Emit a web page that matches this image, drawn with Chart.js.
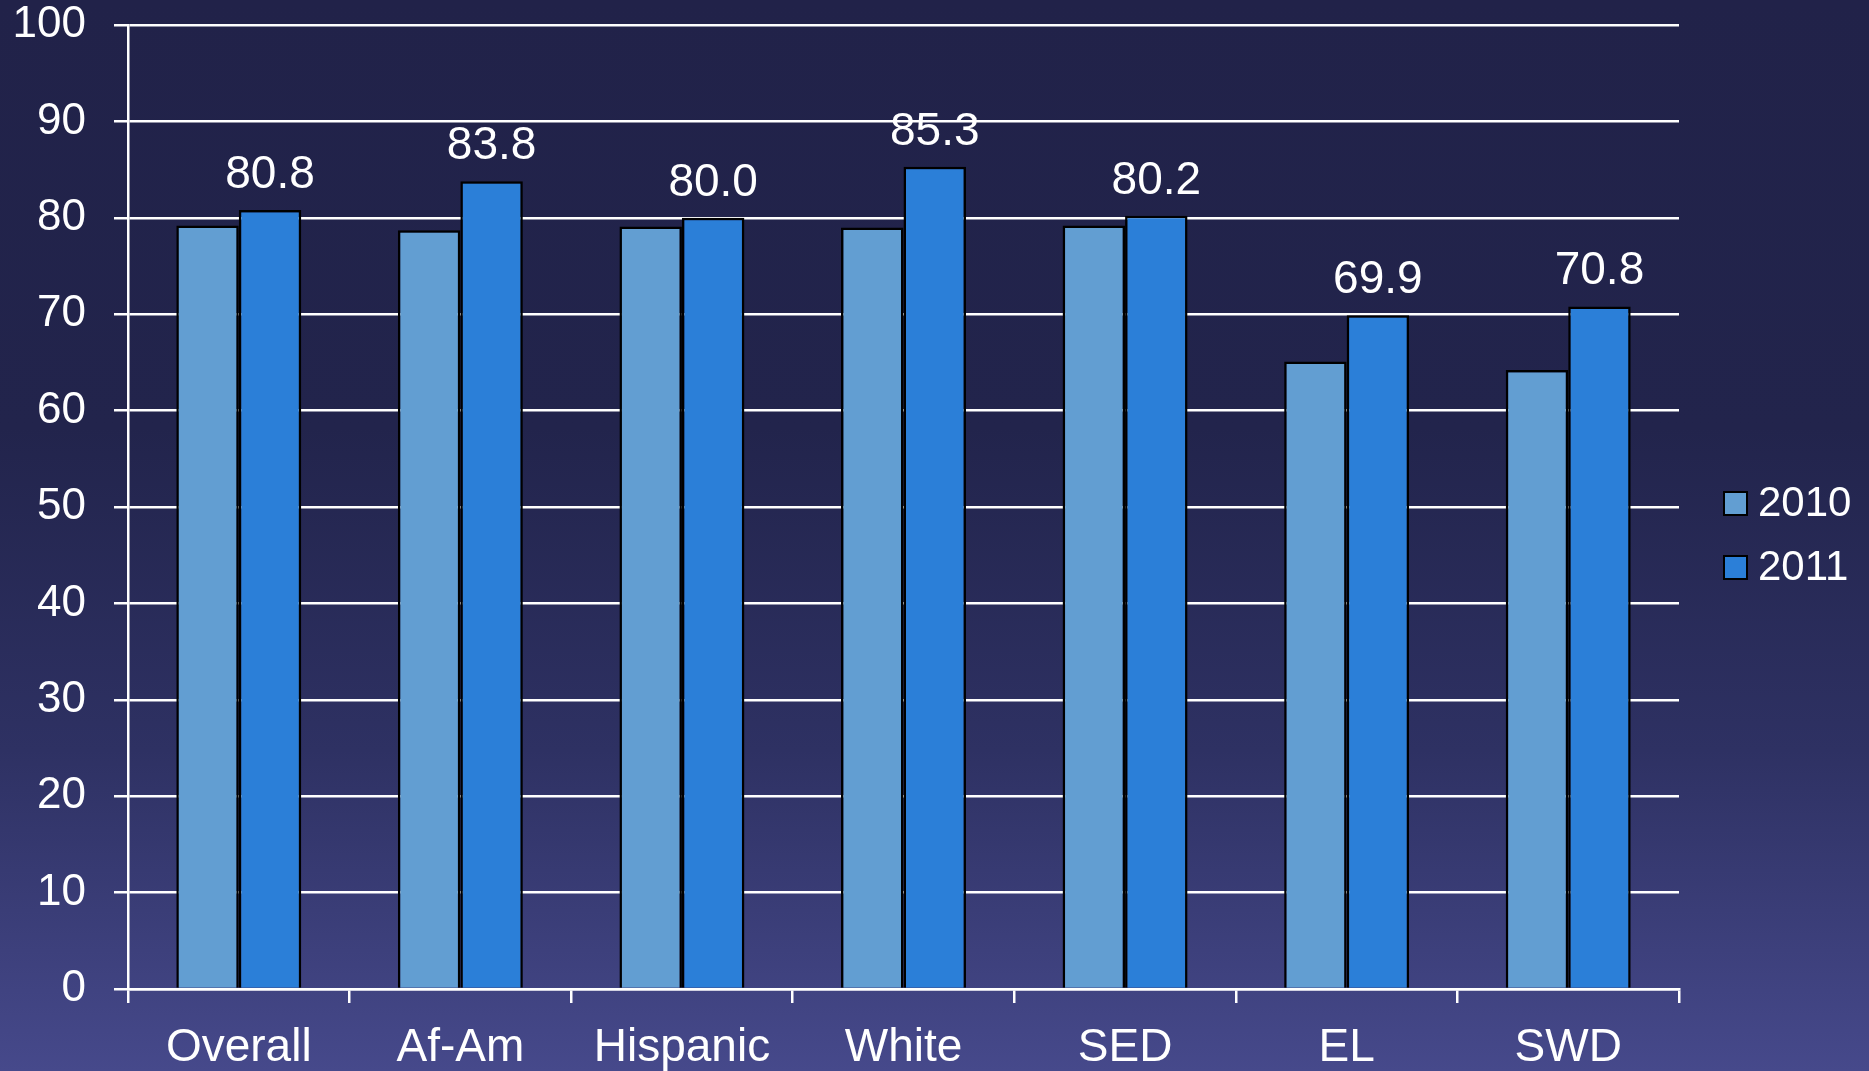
<!DOCTYPE html>
<html>
<head>
<meta charset="utf-8">
<script src="https://cdn.jsdelivr.net/npm/chart.js@4/dist/chart.umd.min.js"></script>
<style>
  html, body { margin: 0; padding: 0; }
  body {
    width: 1869px; height: 1071px; overflow: hidden;
    background: linear-gradient(to bottom, #212249 0%, #22244c 40%, #2e3163 70%, #46498b 100%);
  }
  canvas { display: block; }
</style>
</head>
<body>
<canvas id="chart" width="1869" height="1071"></canvas>
<script>
// Graduation rates by student group, 2010 vs 2011
const categories = ['Overall', 'Af-Am', 'Hispanic', 'White', 'SED', 'EL', 'SWD'];
const seriesNames = ['2010', '2011'];
const values2010 = [79.2, 78.7, 79.1, 79.0, 79.2, 65.1, 64.2];
const values2011 = [80.8, 83.8, 80.0, 85.3, 80.2, 69.9, 70.8];
const yTickValues = [0, 10, 20, 30, 40, 50, 60, 70, 80, 90, 100];

const FONT = '"Liberation Sans", Arial, Helvetica, sans-serif';
const colors = ['#629ed2', '#2b7fd8'];

// Value labels above the 2011 bars
const valueLabels = {
  id: 'valueLabels',
  afterDatasetsDraw(chart) {
    const ctx = chart.ctx;
    const meta = chart.getDatasetMeta(1);
    const data = chart.data.datasets[1].data;
    ctx.save();
    ctx.font = '46px ' + FONT;
    ctx.fillStyle = '#ffffff';
    ctx.textAlign = 'center';
    ctx.textBaseline = 'alphabetic';
    meta.data.forEach((bar, i) => {
      ctx.fillText(data[i].toFixed(1), bar.x, bar.y - 22);
    });
    ctx.restore();
  }
};

// Legend drawn at the right of the plot, vertically centred
const sideLegend = {
  id: 'sideLegend',
  afterDraw(chart) {
    const ctx = chart.ctx;
    const area = chart.chartArea;
    const box = 23, rowGap = 64;
    const x0 = area.right + 45;
    const yMid = chart.height / 2;
    const sets = chart.data.datasets;
    const yStart = yMid - rowGap * (sets.length - 1) / 2;
    ctx.save();
    ctx.font = '42px ' + FONT;
    ctx.textAlign = 'left';
    ctx.textBaseline = 'middle';
    sets.forEach((ds, i) => {
      const cy = yStart + i * rowGap;
      ctx.fillStyle = ds.backgroundColor;
      ctx.fillRect(x0, cy - box / 2, box, box);
      ctx.lineWidth = 2;
      ctx.strokeStyle = '#000000';
      ctx.strokeRect(x0, cy - box / 2, box, box);
      ctx.fillStyle = '#ffffff';
      ctx.fillText(ds.label, x0 + box + 11, cy + 1);
    });
    ctx.restore();
  }
};

new Chart(document.getElementById('chart'), {
  type: 'bar',
  data: {
    labels: categories,
    datasets: [
      { label: seriesNames[0], data: values2010, backgroundColor: colors[0],
        borderColor: '#000000', borderWidth: 2.5, borderSkipped: 'bottom' },
      { label: seriesNames[1], data: values2011, backgroundColor: colors[1],
        borderColor: '#000000', borderWidth: 2.5, borderSkipped: 'bottom' }
    ]
  },
  options: {
    responsive: false,
    animation: false,
    devicePixelRatio: 1,
    layout: { padding: { top: 25, right: 190, left: 0, bottom: 0 } },
    datasets: { bar: { categoryPercentage: 0.564, barPercentage: 1.0 } },
    plugins: { legend: { display: false }, tooltip: { enabled: false } },
    scales: {
      x: {
        offset: true,
        grid: { offset: true, drawOnChartArea: false, drawTicks: true, tickLength: 14,
                color: '#ffffff', lineWidth: 2.5 },
        border: { display: true, color: '#ffffff', width: 2.5 },
        ticks: { color: '#ffffff', font: { family: FONT, size: 46 }, padding: 18,
                 maxRotation: 0, autoSkip: false },
        afterFit(scale) { scale.height = 82; scale.paddingLeft = 0; scale.paddingRight = 0; }
      },
      y: {
        min: 0, max: 100,
        afterBuildTicks(scale) { scale.ticks = yTickValues.map(v => ({ value: v })); },
        grid: { color: '#ffffff', lineWidth: 2.5, tickLength: 14, drawTicks: true },
        border: { display: true, color: '#ffffff', width: 2.5 },
        ticks: { color: '#ffffff', font: { family: FONT, size: 44, lineHeight: 1 }, padding: 28 },
        afterFit(scale) { scale.width = 128; scale.paddingTop = 0; scale.paddingBottom = 0; }
      }
    }
  },
  plugins: [valueLabels, sideLegend]
});
</script>
</body>
</html>
